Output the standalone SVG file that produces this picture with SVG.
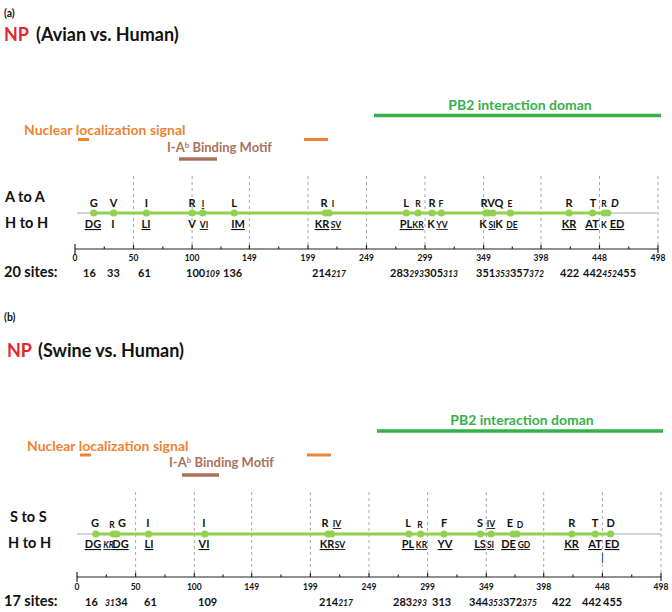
<svg xmlns="http://www.w3.org/2000/svg" width="672" height="612" viewBox="0 0 672 612">
<style>
text{font-family:Lato,"Open Sans","Liberation Sans",sans-serif;font-weight:bold;fill:#111}
.lbl{font-size:10.5px}
.ttl{font-size:18px}
.row{font-size:14.5px}
.res{font-size:11px;text-anchor:middle}
.sm{font-size:8.5px}
.u{text-decoration:underline}
.it{font-style:italic;font-size:8.5px}
.tick{font-size:8.5px;text-anchor:middle}
.num{font-size:11px}
.nls{fill:#f08232;font-size:14px}
.mot{fill:#a8735a;font-size:13px}
.pb2{fill:#36b04a;font-size:14px}
.dash{stroke:#a8a8a8;stroke-width:1;stroke-dasharray:3 3}
.gray{stroke:#d4d4d4;stroke-width:2}
.gl{stroke:#92d050;stroke-width:3}
.dot{fill:#92d050}
.ax{stroke:#222;stroke-width:1.2}
.orb{stroke:#f08232;stroke-width:3}
.brb{stroke:#a8735a;stroke-width:3.5}
.pbl{stroke:#36b04a;stroke-width:3.5}
</style>

<g id="panel-a">
  <text x="4" y="17" class="lbl">(a)</text>
  <g id="title-a"><text x="4" y="41" class="ttl"><tspan fill="#e3262f">NP</tspan><tspan x="36">(Avian vs. Human)</tspan></text></g>
  <g id="pb2-a"><text x="520" y="110" class="pb2" text-anchor="middle">PB2 interaction doman</text><line x1="374" y1="115.5" x2="661" y2="115.5" class="pbl"/></g>
  <g id="nls-a"><text x="24" y="135" class="nls">Nuclear localization signal</text><line x1="78" y1="139.5" x2="89" y2="139.5" class="orb"/><line x1="304" y1="139.5" x2="328" y2="139.5" class="orb"/></g>
  <g id="motif-a"><text x="167" y="152" class="mot">I-A<tspan font-size="8" dy="-4">b</tspan><tspan dy="4"> Binding Motif</tspan></text><line x1="179" y1="159" x2="217" y2="159" class="brb"/></g>
  <g id="dashes-a">
    <line x1="133.5" y1="176" x2="133.5" y2="249" class="dash"/>
    <line x1="192.1" y1="176" x2="192.1" y2="249" class="dash"/>
    <line x1="249.4" y1="176" x2="249.4" y2="249" class="dash"/>
    <line x1="308" y1="176" x2="308" y2="249" class="dash"/>
    <line x1="366.5" y1="176" x2="366.5" y2="249" class="dash"/>
    <line x1="425" y1="176" x2="425" y2="249" class="dash"/>
    <line x1="483.6" y1="176" x2="483.6" y2="249" class="dash"/>
    <line x1="541" y1="176" x2="541" y2="249" class="dash"/>
    <line x1="599.5" y1="176" x2="599.5" y2="249" class="dash"/>
    <line x1="658" y1="176" x2="658" y2="249" class="dash"/>
  </g>
  <text x="5" y="202" class="row">A to A</text>
  <text x="5" y="228" class="row">H to H</text>
  <g id="gene-a">
    <line x1="77" y1="213" x2="658" y2="213" class="gray"/>
    <line x1="93.7" y1="213" x2="607.7" y2="213" class="gl"/>
    <circle cx="93.7" cy="213" r="3.6" class="dot"/><circle cx="113.6" cy="213" r="3.6" class="dot"/>
    <circle cx="146.4" cy="213" r="3.6" class="dot"/><circle cx="192.1" cy="213" r="3.6" class="dot"/>
    <circle cx="202.6" cy="213" r="3.6" class="dot"/><circle cx="234.2" cy="213" r="3.6" class="dot"/>
    <circle cx="325.5" cy="213" r="3.6" class="dot"/><circle cx="329" cy="213" r="3.6" class="dot"/>
    <circle cx="406.3" cy="213" r="3.6" class="dot"/><circle cx="418" cy="213" r="3.6" class="dot"/>
    <circle cx="432.1" cy="213" r="3.6" class="dot"/><circle cx="441.4" cy="213" r="3.6" class="dot"/>
    <circle cx="485.9" cy="213" r="3.6" class="dot"/><circle cx="488.3" cy="213" r="3.6" class="dot"/>
    <circle cx="492.9" cy="213" r="3.6" class="dot"/><circle cx="510.5" cy="213" r="3.6" class="dot"/>
    <circle cx="569" cy="213" r="3.6" class="dot"/><circle cx="592.5" cy="213" r="3.6" class="dot"/>
    <circle cx="604.2" cy="213" r="3.6" class="dot"/><circle cx="607.7" cy="213" r="3.6" class="dot"/>
  </g>
  <g id="top-a">
    <text x="93.7" y="207" class="res">G</text><text x="113.6" y="207" class="res">V</text>
    <text x="146.4" y="207" class="res">I</text><text x="192" y="207" class="res">R</text>
    <text x="203" y="207" class="res sm u">I</text><text x="234" y="207" class="res">L</text>
    <text x="324" y="207" class="res">R</text><text x="333" y="207" class="res sm">I</text>
    <text x="406" y="207" class="res">L</text><text x="418" y="207" class="res sm">R</text>
    <text x="432" y="207" class="res">R</text><text x="441" y="207" class="res sm">F</text>
    <text x="484" y="207" class="res">R</text><text x="491" y="207" class="res">V</text>
    <text x="499" y="207" class="res">Q</text><text x="510" y="207" class="res sm">E</text>
    <text x="569" y="207" class="res">R</text><text x="593" y="207" class="res">T</text>
    <text x="604" y="207" class="res sm">R</text><text x="615" y="207" class="res" font-style="italic">D</text>
  </g>
  <g id="bot-a">
    <text x="93" y="228" class="res u">DG</text><text x="113" y="228" class="res">I</text>
    <text x="146" y="228" class="res u">LI</text><text x="192" y="228" class="res">V</text>
    <text x="204" y="228" class="res sm u">VI</text><text x="238" y="228" class="res u">IM</text>
    <text x="322" y="228" class="res u">KR</text><text x="336" y="228" class="res sm u">SV</text>
    <text x="406" y="228" class="res u">PL</text><text x="418" y="228" class="res sm u">KR</text>
    <text x="431" y="228" class="res">K</text><text x="442" y="228" class="res sm u">YV</text>
    <text x="483" y="228" class="res">K</text><text x="492" y="228" class="res sm u">SI</text>
    <text x="499" y="228" class="res">K</text><text x="512" y="228" class="res sm u">DE</text>
    <text x="569" y="228" class="res u">KR</text><text x="592" y="228" class="res u">AT</text>
    <text x="604" y="228" class="res sm">K</text><text x="617" y="228" class="res u">ED</text>
  </g>
  <g id="axis-a">
    <line x1="75" y1="249" x2="658" y2="249" class="ax"/>
    <line x1="75" y1="244" x2="75" y2="255" class="ax"/>
    <line x1="658" y1="245" x2="658" y2="253" class="ax"/>
    <path d="M104.3 249v-2.5M133.5 249v-4M162.8 249v-2.5M192.1 249v-4M221 249v-2.5M249.4 249v-4M278.7 249v-2.5M308 249v-4M337 249v-2.5M366.5 249v-4M395.8 249v-2.5M425 249v-4M454.3 249v-2.5M483.6 249v-4M512.3 249v-2.5M541 249v-4M570.3 249v-2.5M599.5 249v-4M628.8 249v-2.5" class="ax" fill="none"/>
    <text x="75" y="261" class="tick">0</text><text x="133.5" y="261" class="tick">50</text>
    <text x="192.1" y="261" class="tick">100</text><text x="249.4" y="261" class="tick">149</text>
    <text x="308" y="261" class="tick">199</text><text x="366.5" y="261" class="tick">249</text>
    <text x="425" y="261" class="tick">299</text><text x="483.6" y="261" class="tick">349</text>
    <text x="541" y="261" class="tick">398</text><text x="599.5" y="261" class="tick">448</text>
    <text x="658" y="261" class="tick">498</text>
  </g>
  <g id="sites-a">
    <text x="4" y="277" class="row">20 sites:</text>
    <text x="83" y="277" class="num">16</text><text x="107" y="277" class="num">33</text>
    <text x="138" y="277" class="num">61</text>
    <text x="186" y="277" class="num">100<tspan class="it">109</tspan></text>
    <text x="223" y="277" class="num">136</text>
    <text x="312" y="277" class="num">214<tspan class="it">217</tspan></text>
    <text x="390" y="277" class="num">283<tspan class="it">293</tspan>305<tspan class="it">313</tspan></text>
    <text x="476" y="277" class="num">351<tspan class="it">353</tspan>357<tspan class="it">372</tspan></text>
    <text x="560" y="277" class="num">422</text>
    <text x="583" y="277" class="num">442<tspan class="it">452</tspan>455</text>
  </g>
</g>

<g id="panel-b">
  <text x="4" y="321" class="lbl">(b)</text>
  <g id="title-b"><text x="7" y="357" class="ttl"><tspan fill="#e3262f">NP</tspan><tspan x="38">(Swine vs. Human)</tspan></text></g>
  <g id="pb2-b"><text x="522" y="425" class="pb2" text-anchor="middle">PB2 interaction doman</text><line x1="377" y1="431" x2="663" y2="431" class="pbl"/></g>
  <g id="nls-b"><text x="27" y="451" class="nls">Nuclear localization signal</text><line x1="80" y1="455" x2="91" y2="455" class="orb"/><line x1="307" y1="455" x2="331" y2="455" class="orb"/></g>
  <g id="motif-b"><text x="169" y="467" class="mot">I-A<tspan font-size="8" dy="-4">b</tspan><tspan dy="4"> Binding Motif</tspan></text><line x1="182" y1="475" x2="219" y2="475" class="brb"/></g>
  <g id="dashes-b">
    <line x1="135.6" y1="492" x2="135.6" y2="577" class="dash"/>
    <line x1="194.3" y1="492" x2="194.3" y2="577" class="dash"/>
    <line x1="251.7" y1="492" x2="251.7" y2="577" class="dash"/>
    <line x1="310.4" y1="492" x2="310.4" y2="577" class="dash"/>
    <line x1="369" y1="492" x2="369" y2="577" class="dash"/>
    <line x1="427.6" y1="492" x2="427.6" y2="577" class="dash"/>
    <line x1="486.3" y1="492" x2="486.3" y2="577" class="dash"/>
    <line x1="543.7" y1="492" x2="543.7" y2="577" class="dash"/>
    <line x1="602.4" y1="492" x2="602.4" y2="577" class="dash"/>
    <line x1="661" y1="492" x2="661" y2="577" class="dash"/>
  </g>
  <text x="10" y="522" class="row">S to S</text>
  <text x="8" y="548" class="row">H to H</text>
  <g id="gene-b">
    <line x1="77" y1="534" x2="661" y2="534" class="gray"/>
    <line x1="95.8" y1="534" x2="610.6" y2="534" class="gl"/>
    <circle cx="95.8" cy="534" r="3.6" class="dot"/><circle cx="113.4" cy="534" r="3.6" class="dot"/>
    <circle cx="116.9" cy="534" r="3.6" class="dot"/><circle cx="148.5" cy="534" r="3.6" class="dot"/>
    <circle cx="204.8" cy="534" r="3.6" class="dot"/><circle cx="328" cy="534" r="3.6" class="dot"/>
    <circle cx="331.5" cy="534" r="3.6" class="dot"/><circle cx="408.9" cy="534" r="3.6" class="dot"/>
    <circle cx="420.6" cy="534" r="3.6" class="dot"/><circle cx="444" cy="534" r="3.6" class="dot"/>
    <circle cx="480.4" cy="534" r="3.6" class="dot"/><circle cx="491" cy="534" r="3.6" class="dot"/>
    <circle cx="513.2" cy="534" r="3.6" class="dot"/><circle cx="516.8" cy="534" r="3.6" class="dot"/>
    <circle cx="571.9" cy="534" r="3.6" class="dot"/><circle cx="595.3" cy="534" r="3.6" class="dot"/>
    <circle cx="610.6" cy="534" r="3.6" class="dot"/>
  </g>
  <g id="top-b">
    <text x="95" y="527" class="res">G</text><text x="112" y="528" class="res sm">R</text>
    <text x="122" y="527" class="res">G</text><text x="148" y="527" class="res">I</text>
    <text x="204" y="527" class="res">I</text><text x="325" y="527" class="res">R</text>
    <text x="337" y="527" class="res sm u">IV</text><text x="408" y="527" class="res">L</text>
    <text x="420" y="528" class="res sm">R</text><text x="444" y="527" class="res">F</text>
    <text x="480" y="527" class="res">S</text><text x="491" y="527" class="res sm u">IV</text>
    <text x="510" y="527" class="res">E</text><text x="520" y="528" class="res sm">D</text>
    <text x="571.7" y="527" class="res">R</text><text x="595" y="527" class="res">T</text>
    <text x="610.7" y="527" class="res">D</text>
  </g>
  <g id="bot-b">
    <text x="93" y="548" class="res u">DG</text>
    <text x="108.5" y="548" class="res sm u" font-style="italic" fill="#777">KR</text>
    <text x="120.5" y="548" class="res u">DG</text><text x="149" y="548" class="res u">LI</text>
    <text x="204" y="548" class="res u">VI</text><text x="327" y="548" class="res u">KR</text>
    <text x="340" y="548" class="res sm u">SV</text><text x="408" y="548" class="res u">PL</text>
    <text x="421.5" y="548" class="res sm u">KR</text><text x="445" y="548" class="res u">YV</text>
    <text x="480" y="548" class="res u">LS</text><text x="490.5" y="548" class="res sm u">SI</text>
    <text x="508.5" y="548" class="res u">DE</text><text x="524" y="548" class="res sm u">GD</text>
    <text x="571.5" y="548" class="res u">KR</text><text x="595" y="548" class="res u">AT</text>
    <text x="612" y="548" class="res u">ED</text>
  </g>
  <line x1="602.5" y1="553" x2="602.5" y2="563" stroke="#3b5fc0" stroke-width="1.2"/>
  <g id="axis-b">
    <line x1="77" y1="577" x2="661" y2="577" class="ax"/>
    <line x1="77" y1="572" x2="77" y2="582" class="ax"/>
    <line x1="661" y1="573" x2="661" y2="581" class="ax"/>
    <path d="M106.3 577v-2.5M135.6 577v-4M165 577v-2.5M194.3 577v-4M223 577v-2.5M251.7 577v-4M281 577v-2.5M310.4 577v-4M339.7 577v-2.5M369 577v-4M398.3 577v-2.5M427.6 577v-4M457 577v-2.5M486.3 577v-4M515 577v-2.5M543.7 577v-4M573 577v-2.5M602.4 577v-4M631.7 577v-2.5" class="ax" fill="none"/>
    <text x="77" y="590" class="tick">0</text><text x="135.6" y="590" class="tick">50</text>
    <text x="194.3" y="590" class="tick">100</text><text x="251.7" y="590" class="tick">149</text>
    <text x="310.4" y="590" class="tick">199</text><text x="369" y="590" class="tick">249</text>
    <text x="427.6" y="590" class="tick">299</text><text x="486.3" y="590" class="tick">349</text>
    <text x="543.7" y="590" class="tick">398</text><text x="602.4" y="590" class="tick">448</text>
    <text x="661" y="590" class="tick">498</text>
  </g>
  <g id="sites-b">
    <text x="4" y="606" class="row">17 sites:</text>
    <text x="85" y="606" class="num">16</text>
    <text x="105" y="606" class="num"><tspan class="it">31</tspan>34</text>
    <text x="144" y="606" class="num">61</text>
    <text x="198" y="606" class="num">109</text>
    <text x="319" y="606" class="num">214<tspan class="it">217</tspan></text>
    <text x="393" y="606" class="num">283<tspan class="it">293</tspan></text>
    <text x="432" y="606" class="num">313</text>
    <text x="469" y="606" class="num">344<tspan class="it">353</tspan>372<tspan class="it">375</tspan></text>
    <text x="552" y="606" class="num">422</text>
    <text x="582" y="606" class="num">442</text>
    <text x="603" y="606" class="num">455</text>
  </g>
</g>
</svg>
